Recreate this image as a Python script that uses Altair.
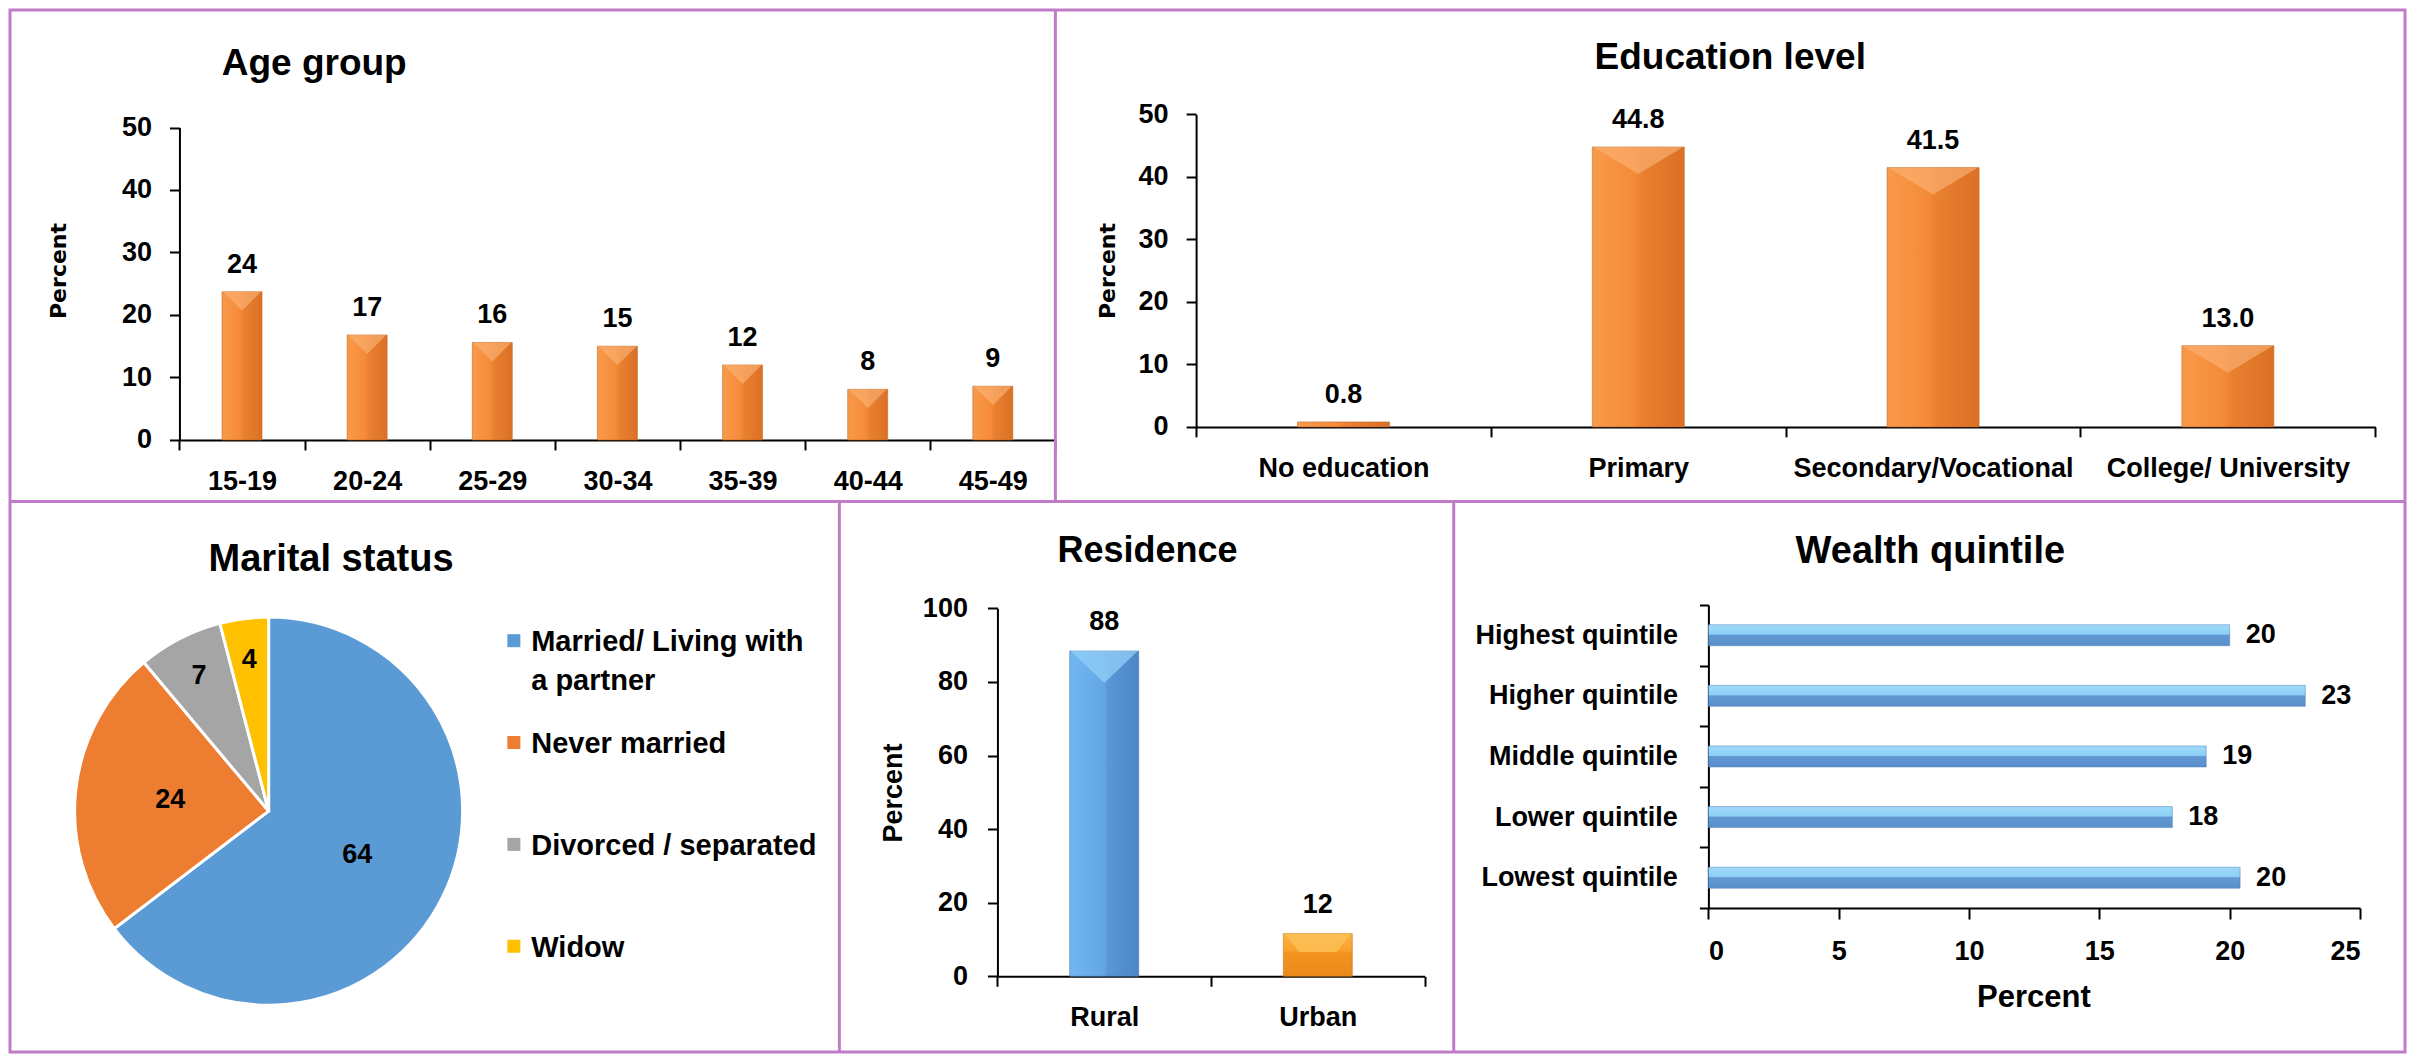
import altair as alt
import pandas as pd

# ---------------- data ----------------
age_groups = ["15-19", "20-24", "25-29", "30-34", "35-39", "40-44", "45-49"]
age_values = [23.7, 16.8, 15.6, 15.0, 12.0, 8.1, 8.6]

edu_levels = ["No education", "Primary", "Secondary/Vocational", "College/ University"]
edu_values = [0.8, 44.8, 41.5, 13.0]

marital_cats = ["Married/ Living with a partner", "Never married", "Divorced / separated", "Widow"]
marital_values = [64, 24, 7, 4]
marital_legend_lines = [["Married/ Living with", "a partner"], ["Never married"],
                        ["Divorced / separated"], ["Widow"]]

residence_cats = ["Rural", "Urban"]
residence_values = [88.4, 11.6]

wealth_cats = ["Highest quintile", "Higher quintile", "Middle quintile",
               "Lower quintile", "Lowest quintile"]
wealth_values = [20.0, 22.9, 19.1, 17.8, 20.4]

# ---------------- layout helpers (reference pixel -> chart pixel) ----------------
PAD = 2
W, H = 2395, 1042
SX = W / 2417
SY = H / 1064


def px(ref):
    return ref * SX


def py(ref):
    return ref * SY


FONT = "Liberation Sans"
BORDER = "#C07CC8"


def grad(stops, vertical=False):
    return alt.LinearGradient(
        gradient="linear", x1=0, x2=0 if vertical else 1, y1=0, y2=1 if vertical else 0,
        stops=[alt.GradientStop(color=c, offset=o) for o, c in stops])


ORANGE_GRAD = grad([(0, "#F89A4A"), (0.45, "#F58B38"), (0.55, "#E9802F"), (1, "#DB7026")])
BLUE_GRAD = grad([(0, "#72B6F2"), (0.5, "#62A6E6"), (0.55, "#5897D8"), (1, "#4C86C6")])
URBAN_GRAD = grad([(0, "#FBB240"), (0.4, "#F8A22C"), (0.45, "#F2921F"), (1, "#EC8A1A")], True)
WEALTH_GRAD = grad([(0, "#A0DAFA"), (0.45, "#8CCFF6"), (0.5, "#6198D2"), (1, "#5A8FCB")], True)
PIE_COLORS = ["#5B9BD5", "#ED7D31", "#A5A5A5", "#FFC000"]


def axis_common(**kw):
    base = dict(labelFont=FONT, labelFontSize=27, labelFontWeight="bold", labelColor="black",
                domainColor="black", domainWidth=2, tickColor="black", tickWidth=2,
                grid=False, labelLimit=600, labelOverlap=False, titleColor="black",
                titleFontWeight="bold", titleLimit=600, minExtent=0, maxExtent=400)
    base.update(kw)
    return alt.Axis(**base)


def left_axis(axis_x, title=None, title_x=None, title_y=None, title_font=FONT, title_size=22, **kw):
    args = dict(orient="left", offset=-px(axis_x), title=title, **kw)
    if title is not None:
        args.update(titleFont=title_font, titleFontSize=title_size,
                    titleX=px(title_x) - px(axis_x), titleY=py(title_y), titleAngle=270,
                    titleAlign="center", titleBaseline="middle")
    return axis_common(**args)


def bottom_axis(axis_y, title=None, title_x=None, title_y=None, title_size=31, **kw):
    args = dict(orient="bottom", offset=py(axis_y) - H, title=title, labelAngle=0, **kw)
    if title is not None:
        args.update(titleFont=FONT, titleFontSize=title_size, titleX=px(title_x),
                    titleY=py(title_y) - py(axis_y), titleAngle=0,
                    titleAlign="center", titleBaseline="middle")
    return axis_common(**args)


def title_layer(text, x, y, size=37):
    return alt.Chart(pd.DataFrame({"t": [text]})).mark_text(
        font=FONT, fontSize=size, fontWeight="bold", align="center",
        baseline="middle", color="black").encode(
        x=alt.value(px(x)), y=alt.value(py(y)), text="t:N")


def border(x1, y1, x2, y2):
    return alt.Chart(pd.DataFrame({"b": [0]})).mark_rule(
        color=BORDER, strokeWidth=3).encode(
        x=alt.value(px(x1)), x2=alt.value(px(x2)), y=alt.value(py(y1)), y2=alt.value(py(y2)))


def bevel(chart, x, y, width, path, color, opacity=0.65):
    # light wedge on the top face of a column (3-D bevel look of the source chart)
    return chart.mark_point(shape=path, size=width * width, filled=True,
                            color=color, opacity=opacity, strokeWidth=0).encode(x=x, y=y)


def wedge(width, depth):
    return f"M -1 0 L 1 0 L 0 {depth / (width / 2):.3f} Z"


LABEL = dict(font=FONT, fontSize=27, fontWeight="bold", baseline="middle", color="black")

# ---------------- Panel 1: Age group ----------------
age_df = pd.DataFrame({"group": age_groups, "pct": age_values})


def x1(show=True):
    return alt.X("group:N", sort=None,
                 scale=alt.Scale(domain=age_groups, range=[px(171), px(1055)],
                                 paddingInner=0, paddingOuter=0),
                 axis=bottom_axis(439, tickBand="extent", tickSize=10, labelPadding=19) if show else None)


def y1(show=True):
    return alt.Y("pct:Q", scale=alt.Scale(domain=[0, 50], range=[py(439), py(120)], nice=False),
                 axis=left_axis(171, "Percent", 49, 266, title_font="DejaVu Sans", title_size=22,
                                values=[0, 10, 20, 30, 40, 50], tickSize=10, labelPadding=18)
                 if show else None)


bars1 = alt.Chart(age_df).mark_bar(size=40, color=ORANGE_GRAD, stroke="#C06A2C",
                                   strokeWidth=1, strokeOpacity=0.6).encode(x=x1(), y=y1())
bev1 = bevel(alt.Chart(age_df), x1(False), y1(False), 38, wedge(38, 19), "#FBB274")
lab1 = alt.Chart(age_df).mark_text(dy=-27, **LABEL).encode(
    x=x1(False), y=y1(False), text=alt.Text("pct:Q", format=".0f"))

# ---------------- Panel 2: Education level ----------------
edu_df = pd.DataFrame({"level": edu_levels, "pct": edu_values})


def x2(show=True):
    return alt.X("level:N", sort=None,
                 scale=alt.Scale(domain=edu_levels, range=[px(1197), px(2387)],
                                 paddingInner=0, paddingOuter=0),
                 axis=bottom_axis(425.7, tickBand="extent", tickSize=10, labelPadding=19) if show else None)


def y2(show=True):
    return alt.Y("pct:Q", scale=alt.Scale(domain=[0, 50], range=[py(425.7), py(106.7)], nice=False),
                 axis=left_axis(1197, "Percent", 1108, 266, title_font="DejaVu Sans", title_size=22,
                                values=[0, 10, 20, 30, 40, 50], tickSize=10, labelPadding=18)
                 if show else None)


bars2 = alt.Chart(edu_df).mark_bar(size=92, color=ORANGE_GRAD, stroke="#C06A2C",
                                   strokeWidth=1, strokeOpacity=0.6).encode(x=x2(), y=y2())
bev2 = bevel(alt.Chart(edu_df).transform_filter("datum.pct > 5"), x2(False), y2(False),
             90, wedge(90, 27), "#FBB274")
lab2 = alt.Chart(edu_df).mark_text(dy=-27, **LABEL).encode(
    x=x2(False), y=y2(False), text=alt.Text("pct:Q", format=".1f"))

# ---------------- Panel 3: Marital status ----------------
mar_df = pd.DataFrame({"status": marital_cats, "pct": marital_values,
                       "lines": marital_legend_lines})
CX, CY = px(261), py(818)
R = 194
R_IN, R_OUT = 99, 152
pie_color = alt.Color("status:N", scale=alt.Scale(domain=marital_cats, range=PIE_COLORS), legend=None)
pie = alt.Chart(mar_df).transform_window(idx="row_number()").mark_arc(
    outerRadius=R, stroke="white", strokeWidth=3).encode(
    theta=alt.Theta("pct:Q", stack=True), color=pie_color, order=alt.Order("idx:Q"),
    x=alt.value(CX), y=alt.value(CY))
pie_lab = alt.Chart(mar_df).transform_window(
    cum="sum(pct)", frame=[None, 0]).transform_joinaggregate(
    tot="sum(pct)").transform_calculate(
    mid="(datum.cum - datum.pct / 2) / datum.tot * 2 * PI",
    rr=f"datum.pct >= 10 ? {R_IN} : {R_OUT}",
    lx=f"{CX} + datum.rr * sin(datum.mid)",
    ly=f"{CY} - datum.rr * cos(datum.mid)").mark_text(align="center", **LABEL).encode(
    x=alt.X("lx:Q", scale=None, axis=None), y=alt.Y("ly:Q", scale=None, axis=None),
    text=alt.Text("pct:Q", format=".0f"))
leg_y = alt.Y("status:N", sort=None, axis=None,
              scale=alt.Scale(domain=marital_cats, range=[py(644), py(956)], padding=0))
leg_sq = alt.Chart(mar_df).mark_square(size=169, opacity=1).encode(
    x=alt.value(px(508.5)), y=leg_y, color=pie_color)
leg_tx = alt.Chart(mar_df).mark_text(
    font=FONT, fontSize=29, fontWeight="bold", align="left", baseline="top", dy=-12.5,
    lineHeight=40 * SY, color="black").encode(
    x=alt.value(px(526)), y=leg_y, text="lines")

# ---------------- Panel 4: Residence ----------------
res_df = pd.DataFrame({"area": residence_cats, "pct": residence_values})


def x4(show=True):
    return alt.X("area:N", sort=None,
                 scale=alt.Scale(domain=residence_cats, range=[px(996.5), px(1427.6)],
                                 paddingInner=0, paddingOuter=0),
                 axis=bottom_axis(986.7, tickBand="extent", tickSize=10, labelPadding=18) if show else None)


def y4(show=True):
    return alt.Y("pct:Q", scale=alt.Scale(domain=[0, 100], range=[py(986.7), py(611)], nice=False),
                 axis=left_axis(996.5, "Percent", 892, 799, title_font=FONT, title_size=27,
                                values=[0, 20, 40, 60, 80, 100], tickSize=10, labelPadding=20)
                 if show else None)


rural_src = alt.Chart(res_df).transform_filter(f"datum.area == '{residence_cats[0]}'")
urban_src = alt.Chart(res_df).transform_filter(f"datum.area == '{residence_cats[1]}'")
rural = rural_src.mark_bar(size=69, color=BLUE_GRAD, stroke="#4679B4", strokeWidth=1,
                           strokeOpacity=0.6).encode(x=x4(), y=y4())
urban = urban_src.mark_bar(size=69, color=URBAN_GRAD, stroke="#C9791E", strokeWidth=1,
                           strokeOpacity=0.6).encode(x=x4(False), y=y4(False))
bev_r = bevel(rural_src, x4(False), y4(False), 67, wedge(67, 32), "#93CFF8", 0.75)
bev_u = bevel(urban_src, x4(False), y4(False), 67, "M -1 0 L 1 0 L 0.55 0.55 L -0.55 0.55 Z",
              "#FCC25A", 0.75)
lab4 = alt.Chart(res_df).mark_text(dy=-29, **LABEL).encode(
    x=x4(False), y=y4(False), text=alt.Text("pct:Q", format=".0f"))

# ---------------- Panel 5: Wealth quintile ----------------
wl_df = pd.DataFrame({"q": wealth_cats, "pct": wealth_values})


def x5(show=True):
    return alt.X("pct:Q", scale=alt.Scale(domain=[0, 25], range=[px(1714), px(2371.6)], nice=False),
                 axis=bottom_axis(917, "Percent", 2042, 1008.5, title_size=31,
                                  values=[0, 5, 10, 15, 20, 25], tickSize=11, labelPadding=19)
                 if show else None)


def y5(show=True):
    return alt.Y("q:N", sort=None,
                 scale=alt.Scale(domain=wealth_cats, range=[py(607.5), py(917)],
                                 paddingInner=0, paddingOuter=0),
                 axis=left_axis(1714, tickBand="extent", tickSize=9, labelPadding=22) if show else None)


bars5 = alt.Chart(wl_df).mark_bar(size=21, color=WEALTH_GRAD, stroke="#4F7FB8",
                                  strokeWidth=1, strokeOpacity=0.5).encode(x=x5(), y=y5())
lab5 = alt.Chart(wl_df).mark_text(align="left", dx=16, **LABEL).encode(
    x=x5(False), y=y5(False), text=alt.Text("pct:Q", format=".0f"))

# ---------------- assemble ----------------
layers = [
    border(1055, 0, 1055, 502), border(0, 502, 2417, 502),
    border(837, 502, 837, 1064), border(1457, 502, 1457, 1064),
    bars1, bev1, lab1, title_layer("Age group", 307, 55),
    bars2, bev2, lab2, title_layer("Education level", 1736, 49),
    pie, pie_lab, leg_sq, leg_tx, title_layer("Marital status", 324, 562, 38),
    rural, urban, bev_r, bev_u, lab4, title_layer("Residence", 1148, 552, 36),
    bars5, lab5, title_layer("Wealth quintile", 1938, 553, 38),
]
chart = alt.layer(*layers).resolve_scale(
    x="independent", y="independent", color="independent").properties(
    width=W, height=H, padding=PAD, background="white",
    autosize=alt.AutoSizeParams(type="none")).configure_view(
    stroke=BORDER, strokeWidth=3)

chart.save("out.html", embed_options={"renderer": "svg", "actions": False})
